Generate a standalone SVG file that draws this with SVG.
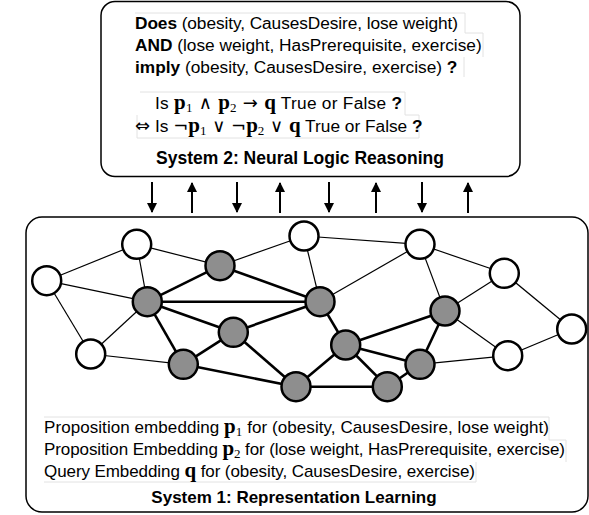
<svg xmlns="http://www.w3.org/2000/svg" width="589" height="515" viewBox="0 0 589 515">
<defs>
<style>
.box{fill:#fff;stroke:#000;stroke-width:1.5}
.t{font-family:"Liberation Sans",Arial,sans-serif;font-size:17.3px;fill:#000}
.t2{font-family:"Liberation Sans",Arial,sans-serif;font-size:17px;fill:#000}
.b{font-weight:bold}
.title{font-family:"Liberation Sans",Arial,sans-serif;font-size:17.5px;font-weight:bold;fill:#000}
.m{font-family:"Liberation Serif","Times New Roman",serif;font-weight:bold;font-size:21px}
.sub{font-family:"Liberation Serif","Times New Roman",serif;font-weight:normal;font-size:13px}
.sym{font-family:"DejaVu Sans",sans-serif;font-size:18px}
.thin{stroke:#000;stroke-width:1.2;fill:none}
.thick{stroke:#000;stroke-width:2.6;fill:none}
.w{fill:#fff;stroke:#000;stroke-width:2.5}
.g{fill:#8e8e8e;stroke:#000;stroke-width:2.5}
.arr{stroke:#000;stroke-width:2;fill:none}
.tb{fill:none;stroke:#e2e2e2;stroke-width:1}
</style>
<marker id="ah" viewBox="0 0 10 10" refX="9" refY="5" markerWidth="5" markerHeight="5" orient="auto" markerUnits="strokeWidth">
<path d="M0,0 L10,5 L0,10 z" fill="#000"/>
</marker>
</defs>

<g id="system2">
<rect class="box" x="101" y="1.5" width="419" height="175" rx="14"/>
<path class="tb" d="M135,13 H465 M465,13 V33 H483 V57 M464,57 V77 M140,92 H405 V115 H419 V138 H137 V115"/>
<text class="t" x="135" y="29" textLength="323" lengthAdjust="spacing"><tspan class="b">Does</tspan> (obesity, CausesDesire, lose weight)</text>
<text class="t" x="135" y="51"><tspan class="b">AND</tspan> (lose weight, HasPrerequisite, exercise)</text>
<text class="t" x="135" y="73"><tspan class="b">imply</tspan> (obesity, CausesDesire, exercise) <tspan class="b">?</tspan></text>
<text class="t" x="155" y="109" textLength="247" lengthAdjust="spacing">Is <tspan class="m">p</tspan><tspan class="sub" dy="3">1</tspan><tspan class="sym" dy="-3"> ∧ </tspan><tspan class="m">p</tspan><tspan class="sub" dy="3">2</tspan><tspan class="sym" dy="-3"> → </tspan><tspan class="m">q</tspan> True or False <tspan class="b">?</tspan></text>
<text class="t" x="135" y="132"><tspan class="sym">⇔</tspan> Is <tspan class="sym">¬</tspan><tspan class="m">p</tspan><tspan class="sub" dy="3">1</tspan><tspan class="sym" dy="-3"> ∨ ¬</tspan><tspan class="m">p</tspan><tspan class="sub" dy="3">2</tspan><tspan class="sym" dy="-3"> ∨ </tspan><tspan class="m">q</tspan> True or False <tspan class="b">?</tspan></text>
<text class="title" x="300" y="164" text-anchor="middle">System 2: Neural Logic Reasoning</text>
</g>

<g id="arrows">
<line class="arr" x1="152" y1="182" x2="152" y2="212" marker-end="url(#ah)"/>
<line class="arr" x1="192" y1="213" x2="192" y2="183" marker-end="url(#ah)"/>
<line class="arr" x1="237" y1="182" x2="237" y2="212" marker-end="url(#ah)"/>
<line class="arr" x1="280" y1="213" x2="280" y2="183" marker-end="url(#ah)"/>
<line class="arr" x1="329" y1="182" x2="329" y2="212" marker-end="url(#ah)"/>
<line class="arr" x1="376" y1="213" x2="376" y2="183" marker-end="url(#ah)"/>
<line class="arr" x1="422" y1="182" x2="422" y2="212" marker-end="url(#ah)"/>
<line class="arr" x1="468" y1="213" x2="468" y2="183" marker-end="url(#ah)"/>
</g>

<g id="system1">
<rect class="box" x="26" y="217" width="562" height="295" rx="16"/>
<path class="tb" d="M44,417 H549 V440 H566 V462 M44,482 H476 V462"/>
<text class="t2" x="44" y="433" textLength="505" lengthAdjust="spacing">Proposition embedding <tspan class="m">p</tspan><tspan class="sub" dy="3">1</tspan><tspan dy="-3"> for (obesity, CausesDesire, lose weight)</tspan></text>
<text class="t2" x="44" y="455" textLength="521" lengthAdjust="spacing">Proposition Embedding <tspan class="m">p</tspan><tspan class="sub" dy="3">2</tspan><tspan dy="-3"> for (lose weight, HasPrerequisite, exercise)</tspan></text>
<text class="t2" x="44" y="477" textLength="431" lengthAdjust="spacing">Query Embedding <tspan class="m">q</tspan> for (obesity, CausesDesire, exercise)</text>
<text class="title" x="294" y="503" text-anchor="middle" style="font-size:17px">System 1: Representation Learning</text>
</g>

<g id="edges">
<line class="thin" x1="46.7" y1="280.7" x2="136.7" y2="244.3"/>
<line class="thin" x1="46.7" y1="280.7" x2="147.3" y2="301.7"/>
<line class="thin" x1="46.7" y1="280.7" x2="90.7" y2="354"/>
<line class="thin" x1="136.7" y1="244.3" x2="220" y2="265.7"/>
<line class="thin" x1="136.7" y1="244.3" x2="147.3" y2="301.7"/>
<line class="thin" x1="90.7" y1="354" x2="147.3" y2="301.7"/>
<line class="thin" x1="90.7" y1="354" x2="183.3" y2="364.3"/>
<line class="thin" x1="220" y1="265.7" x2="304" y2="236"/>
<line class="thin" x1="304" y1="236" x2="420" y2="244.3"/>
<line class="thin" x1="304" y1="236" x2="320" y2="301.7"/>
<line class="thin" x1="420" y1="244.3" x2="320" y2="301.7"/>
<line class="thin" x1="420" y1="244.3" x2="504.3" y2="273.3"/>
<line class="thin" x1="420" y1="244.3" x2="445" y2="311"/>
<line class="thin" x1="504.3" y1="273.3" x2="445" y2="311"/>
<line class="thin" x1="504.3" y1="273.3" x2="571.7" y2="329"/>
<line class="thin" x1="445" y1="311" x2="507.7" y2="355.7"/>
<line class="thin" x1="507.7" y1="355.7" x2="571.7" y2="329"/>
<line class="thin" x1="507.7" y1="355.7" x2="420" y2="364.3"/>
<line class="thick" x1="147.3" y1="301.7" x2="220" y2="265.7"/>
<line class="thick" x1="220" y1="265.7" x2="320" y2="301.7"/>
<line class="thick" x1="147.3" y1="301.7" x2="320" y2="301.7"/>
<line class="thick" x1="147.3" y1="301.7" x2="233.3" y2="332.3"/>
<line class="thick" x1="147.3" y1="301.7" x2="183.3" y2="364.3"/>
<line class="thick" x1="233.3" y1="332.3" x2="320" y2="301.7"/>
<line class="thick" x1="233.3" y1="332.3" x2="183.3" y2="364.3"/>
<line class="thick" x1="233.3" y1="332.3" x2="296" y2="386.7"/>
<line class="thick" x1="183.3" y1="364.3" x2="296" y2="386.7"/>
<line class="thick" x1="320" y1="301.7" x2="345.7" y2="345"/>
<line class="thick" x1="345.7" y1="345" x2="445" y2="311"/>
<line class="thick" x1="345.7" y1="345" x2="420" y2="364.3"/>
<line class="thick" x1="345.7" y1="345" x2="296" y2="386.7"/>
<line class="thick" x1="345.7" y1="345" x2="387.3" y2="386.7"/>
<line class="thick" x1="445" y1="311" x2="420" y2="364.3"/>
<line class="thick" x1="420" y1="364.3" x2="387.3" y2="386.7"/>
<line class="thick" x1="296" y1="386.7" x2="387.3" y2="386.7"/>
</g>

<g id="nodes">
<circle id="w1" class="w" cx="46.7" cy="280.7" r="14.5"/>
<circle id="w2" class="w" cx="136.7" cy="244.3" r="14.5"/>
<circle id="w3" class="w" cx="90.7" cy="354" r="14.5"/>
<circle id="w4" class="w" cx="304" cy="236" r="14.5"/>
<circle id="w5" class="w" cx="420" cy="244.3" r="14.5"/>
<circle id="w6" class="w" cx="504.3" cy="273.3" r="14.5"/>
<circle id="w7" class="w" cx="571.7" cy="329" r="14.5"/>
<circle id="w8" class="w" cx="507.7" cy="355.7" r="14.5"/>
<circle id="g1" class="g" cx="220" cy="265.7" r="14.5"/>
<circle id="g2" class="g" cx="147.3" cy="301.7" r="14.5"/>
<circle id="g3" class="g" cx="233.3" cy="332.3" r="14.5"/>
<circle id="g4" class="g" cx="183.3" cy="364.3" r="14.5"/>
<circle id="g5" class="g" cx="296" cy="386.7" r="14.5"/>
<circle id="g6" class="g" cx="320" cy="301.7" r="14.5"/>
<circle id="g7" class="g" cx="445" cy="311" r="14.5"/>
<circle id="g8" class="g" cx="345.7" cy="345" r="14.5"/>
<circle id="g9" class="g" cx="420" cy="364.3" r="14.5"/>
<circle id="g10" class="g" cx="387.3" cy="386.7" r="14.5"/>
</g>
</svg>
